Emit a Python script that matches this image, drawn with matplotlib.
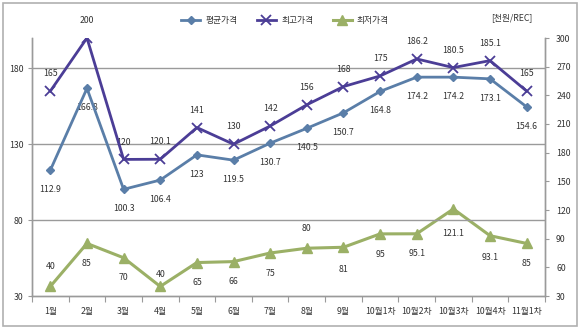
import matplotlib
matplotlib.use("Agg")
import matplotlib.pyplot as plt
from matplotlib.patches import Rectangle

plt.rcParams['font.family'] = ['Noto Sans CJK KR', 'DejaVu Sans']

categories = ["1월", "2월", "3월", "4월", "5월", "6월", "7월", "8월", "9월",
              "10월1차", "10월2차", "10월3차", "10월4차", "11월1차"]
avg_price = [112.9, 166.8, 100.3, 106.4, 123, 119.5, 130.7, 140.5, 150.7,
             164.8, 174.2, 174.2, 173.1, 154.6]
max_price = [165, 200, 120, 120.1, 141, 130, 142, 156, 168, 175, 186.2,
             180.5, 185.1, 165]
min_price = [40, 85, 70, 40, 65, 66, 75, 80, 81, 95, 95.1, 121.1, 93.1, 85]
left_ticks = [30, 80, 130, 180]
right_ticks = [30, 60, 90, 120, 150, 180, 210, 240, 270, 300]
series_names = ["평균가격", "최고가격", "최저가격"]
unit_label = "[천원/REC]"

# label placement style (+ above, - below) for the min series
min_label_dir = [1, -1, -1, 0.6, -1, -1, -1, 1, -1.1, -1, -1, -1.2, -1.1, -1]

c_avg = "#5a7ea8"
c_max = "#4b3d96"
c_min = "#9bb066"
grid_c = "#9a9a9a"
txt_c = "#333333"

fig = plt.figure(figsize=(5.8, 3.28), dpi=100)
fig.patches.append(Rectangle((0.005, 0.006), 0.99, 0.985, transform=fig.transFigure,
                             fill=False, edgecolor="#b0b0b0", linewidth=1.2))
ax = fig.add_axes([32/580, 32/328, 513/580, 258/328])
ax2 = ax.twinx()

x = list(range(len(categories)))
fs = 6.3

ax.set_xlim(-0.5, len(categories) - 0.5)
ax.set_ylim(30, 200)
ax2.set_ylim(30, 300)

for v in [80, 130, 180]:
    ax.axhline(v, color=grid_c, linewidth=1.0, zorder=1)

l1, = ax.plot(x, avg_price, color=c_avg, linewidth=2.0, marker="D", markersize=4.5,
              zorder=3, label=series_names[0])
l2, = ax.plot(x, max_price, color=c_max, linewidth=2.0, marker="x", markersize=7,
              markeredgewidth=1.3, zorder=3, label=series_names[1])
l3, = ax2.plot(x, min_price, color=c_min, linewidth=2.2, marker="^", markersize=6.5,
               zorder=3, label=series_names[2])

for xi, v in zip(x, avg_price):
    ax.annotate(f"{v:g}", (xi, v), xytext=(0, -14), textcoords="offset points",
                ha="center", va="center", fontsize=fs, color=txt_c, zorder=2)
for xi, v in zip(x, max_price):
    ax.annotate(f"{v:g}", (xi, v), xytext=(0, 12.5), textcoords="offset points",
                ha="center", va="center", fontsize=fs, color=txt_c, zorder=2)
for xi, v, d in zip(x, min_price, min_label_dir):
    ax2.annotate(f"{v:g}", (xi, v), xytext=(0, 14.5 * d), textcoords="offset points",
                 ha="center", va="center", fontsize=fs, color=txt_c, zorder=2)

# axes styling
ax.set_xticks([i - 0.5 for i in range(len(categories) + 1)], minor=False)
ax.set_xticklabels([])
ax.set_xticks(x, minor=True)
ax.set_xticklabels(categories, minor=True, fontsize=fs, color=txt_c)
ax.tick_params(axis="x", which="major", length=4, color=grid_c, direction="out")
ax.tick_params(axis="x", which="minor", length=0, pad=8)

ax.set_yticks(left_ticks)
ax.set_yticklabels([str(t) for t in left_ticks], fontsize=fs, color=txt_c)
ax.tick_params(axis="y", length=3, color=grid_c, pad=3)
ax2.set_yticks(right_ticks)
ax2.set_yticklabels([str(t) for t in right_ticks], fontsize=fs, color=txt_c)
ax2.tick_params(axis="y", length=3, color=grid_c, pad=5)

for a in (ax, ax2):
    a.spines["top"].set_visible(False)
    for s in ("left", "right", "bottom"):
        a.spines[s].set_color(grid_c)
        a.spines[s].set_linewidth(1.0)
ax.set_zorder(ax2.get_zorder() + 1)
ax.patch.set_visible(False)

fig.legend(handles=[l1, l2, l3], loc="center", bbox_to_anchor=(285/580, 1 - 21/328),
           ncol=3, frameon=False, fontsize=fs, handlelength=2.2, columnspacing=2.2,
           handletextpad=0.6, labelcolor=txt_c)
fig.text(512/580, 1 - 18/328, unit_label, fontsize=fs, ha="center", va="center", color=txt_c)

fig.savefig("out.png", dpi=100)
